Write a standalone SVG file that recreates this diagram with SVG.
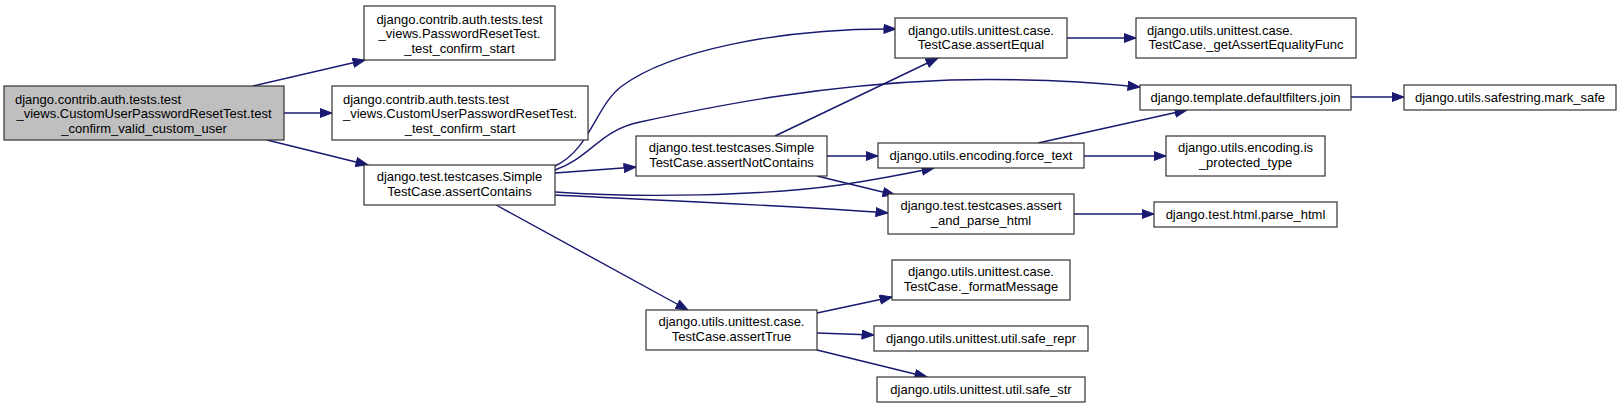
<svg xmlns="http://www.w3.org/2000/svg" width="1621" height="408" viewBox="0 0 1621 408">
<style>
.n rect{fill:#fff;stroke:#333;stroke-width:1.2}
.n.root rect{fill:#bfbfbf}
.n text{font-family:"Liberation Sans",Arial,sans-serif;font-size:13px;fill:#000}
.c{text-anchor:middle}
.e path{fill:none;stroke:#191970;stroke-width:1.4;marker-end:url(#ah)}
</style>
<defs>
<marker id="ah" markerUnits="userSpaceOnUse" markerWidth="14" markerHeight="11" refX="12.5" refY="5" orient="auto">
<path d="M0.5,0.5 L12.5,5 L0.5,9.5 z" fill="#191970" stroke="#191970" stroke-width="1"/>
</marker>
</defs>
<rect width="1621" height="408" fill="#fff"/>
<g id="edges" class="e">
<path d="M253,86 L365,60"/>
<path d="M284,113 L332,113"/>
<path d="M267,140 L368,165"/>
<path d="M555,166 C590,150 596,105 622,86 C668,52 776,28 896,29"/>
<path d="M555,170 C590,158 600,130 640,122 C720,105 820,85 950,80 C1030,78 1090,82 1140,87"/>
<path d="M555,173 L636,167"/>
<path d="M555,192 C640,198 760,196 840,185 C880,179 910,173 934,168"/>
<path d="M555,195 C650,200 780,205 888,213"/>
<path d="M496,205 L688,310"/>
<path d="M775,136 L938,58"/>
<path d="M827,156 L878,156"/>
<path d="M817,176 L895,195"/>
<path d="M1038,143 L1187,110"/>
<path d="M1084,156 L1166,156"/>
<path d="M1067,38 L1136,38"/>
<path d="M1351,97 L1404,97"/>
<path d="M1074,214 L1154,214"/>
<path d="M817,313 L892,297"/>
<path d="M817,333 L874,335"/>
<path d="M817,350 L927,377"/>
</g>
<g id="n_main" class="n root">
<rect x="4" y="86" width="280" height="54"/>
<text x="15" y="103.5">django.contrib.auth.tests.test</text>
<text class="c" x="144" y="118">_views.CustomUserPasswordResetTest.test</text>
<text class="c" x="144" y="132.5">_confirm_valid_custom_user</text>
</g>
<g id="n_prt_start" class="n">
<rect x="364" y="6" width="191" height="54"/>
<text class="c" x="459.5" y="23.5">django.contrib.auth.tests.test</text>
<text class="c" x="459.5" y="38">_views.PasswordResetTest.</text>
<text class="c" x="459.5" y="52.5">_test_confirm_start</text>
</g>
<g id="n_cuprt_start" class="n">
<rect x="332" y="86" width="256" height="54"/>
<text x="343" y="103.5">django.contrib.auth.tests.test</text>
<text class="c" x="460" y="118">_views.CustomUserPasswordResetTest.</text>
<text class="c" x="460" y="132.5">_test_confirm_start</text>
</g>
<g id="n_assertContains" class="n">
<rect x="364" y="165" width="191" height="40"/>
<text class="c" x="459.5" y="181">django.test.testcases.Simple</text>
<text class="c" x="459.5" y="196">TestCase.assertContains</text>
</g>
<g id="n_assertEqual" class="n">
<rect x="895" y="18" width="172" height="40"/>
<text class="c" x="981" y="34.5">django.utils.unittest.case.</text>
<text class="c" x="981" y="49">TestCase.assertEqual</text>
</g>
<g id="n_getAssertEqualityFunc" class="n">
<rect x="1136" y="18" width="220" height="40"/>
<text x="1147" y="34.5">django.utils.unittest.case.</text>
<text class="c" x="1246" y="49">TestCase._getAssertEqualityFunc</text>
</g>
<g id="n_join" class="n">
<rect x="1140" y="85" width="211" height="25"/>
<text class="c" x="1245.5" y="102">django.template.defaultfilters.join</text>
</g>
<g id="n_mark_safe" class="n">
<rect x="1404" y="85" width="212" height="25"/>
<text class="c" x="1510" y="102">django.utils.safestring.mark_safe</text>
</g>
<g id="n_assertNotContains" class="n">
<rect x="636" y="136" width="191" height="40"/>
<text class="c" x="731.5" y="152">django.test.testcases.Simple</text>
<text class="c" x="731.5" y="167">TestCase.assertNotContains</text>
</g>
<g id="n_force_text" class="n">
<rect x="878" y="143" width="206" height="25"/>
<text class="c" x="981" y="160">django.utils.encoding.force_text</text>
</g>
<g id="n_is_protected_type" class="n">
<rect x="1166" y="136" width="159" height="40"/>
<text class="c" x="1245.5" y="152">django.utils.encoding.is</text>
<text class="c" x="1245.5" y="167">_protected_type</text>
</g>
<g id="n_assert_and_parse_html" class="n">
<rect x="888" y="194" width="186" height="40"/>
<text class="c" x="981" y="210">django.test.testcases.assert</text>
<text class="c" x="981" y="225">_and_parse_html</text>
</g>
<g id="n_parse_html" class="n">
<rect x="1154" y="202" width="183" height="25"/>
<text class="c" x="1245.5" y="219">django.test.html.parse_html</text>
</g>
<g id="n_assertTrue" class="n">
<rect x="646" y="310" width="171" height="40"/>
<text class="c" x="731.5" y="326">django.utils.unittest.case.</text>
<text class="c" x="731.5" y="341">TestCase.assertTrue</text>
</g>
<g id="n_formatMessage" class="n">
<rect x="892" y="260" width="178" height="40"/>
<text class="c" x="981" y="276">django.utils.unittest.case.</text>
<text class="c" x="981" y="291">TestCase._formatMessage</text>
</g>
<g id="n_safe_repr" class="n">
<rect x="874" y="326" width="214" height="25"/>
<text class="c" x="981" y="343">django.utils.unittest.util.safe_repr</text>
</g>
<g id="n_safe_str" class="n">
<rect x="877" y="377" width="208" height="25"/>
<text class="c" x="981" y="394">django.utils.unittest.util.safe_str</text>
</g>
</svg>
